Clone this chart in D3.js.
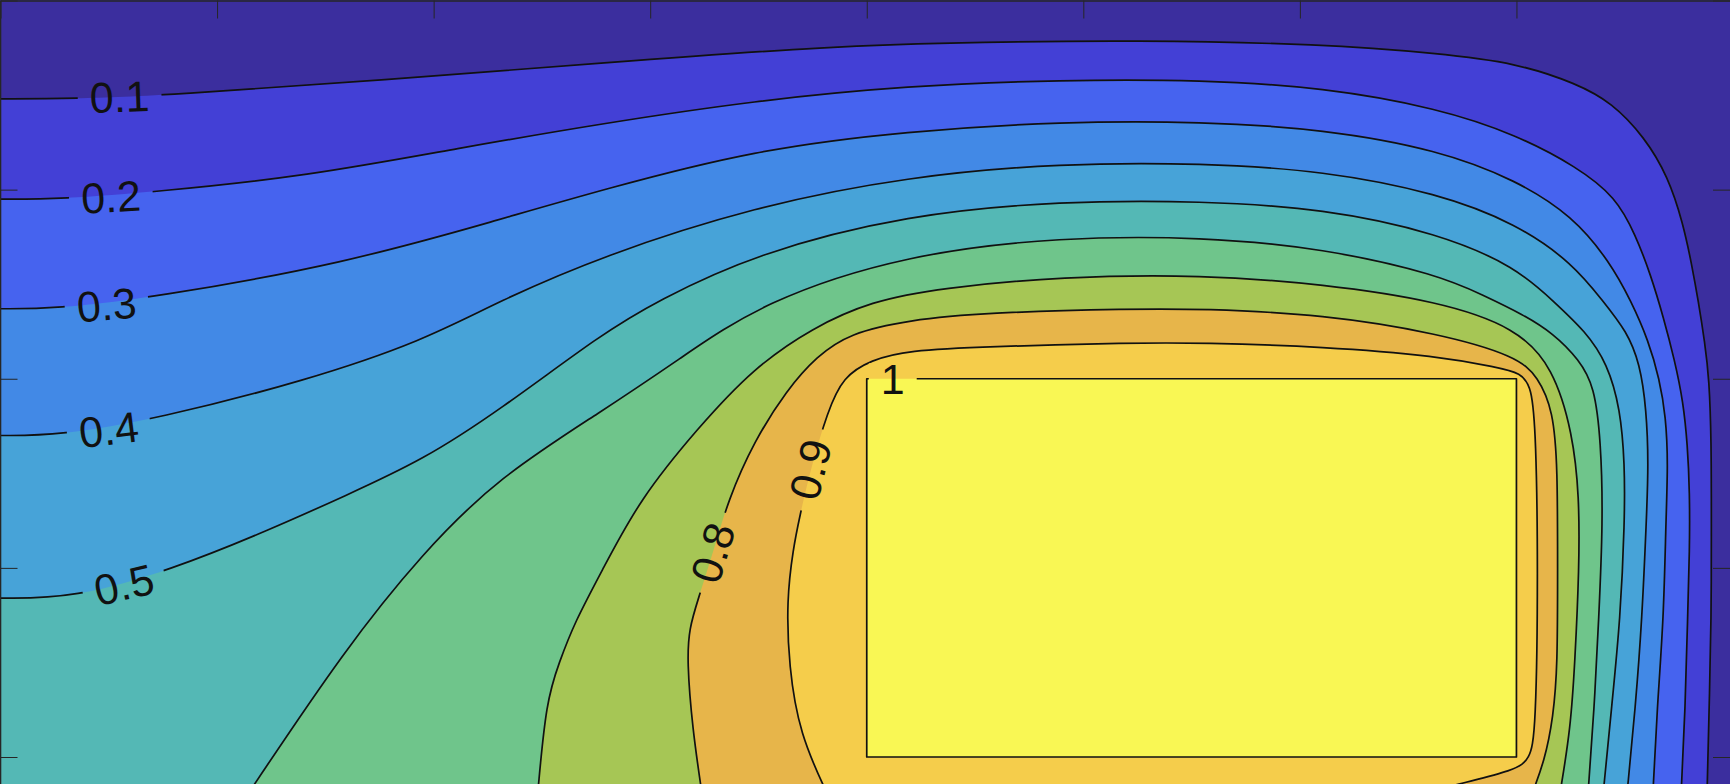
<!DOCTYPE html>
<html><head><meta charset="utf-8">
<script src="https://cdn.jsdelivr.net/npm/d3@7"></script>
<style>html,body{margin:0;padding:0;background:#fff;}svg{display:block;}</style>
</head><body>
<svg id="chart" width="1730" height="784"></svg>
<script>
// ---- data (x, y in axis units; rectangle source at value 1) ----
const levels = [0.1, 0.2, 0.3, 0.4, 0.5, 0.6, 0.7, 0.8, 0.9, 1.0];
const bandColors = ["#3b2e9e", "#4340d6", "#4663ef", "#4289e6", "#47a3d8", "#54b8b5",
                    "#6fc58b", "#a6c655", "#e7b54a", "#f5cd4b", "#f9f754"];
const contour01 = [[0,3.48],[0.33,3.48],[0.79,3.50],[1.77,3.58],[2.78,3.67],[3.84,3.76],[4.55,3.78],[5.22,3.79],[6.11,3.77],[6.64,3.72],[7.00,3.67],[7.28,3.56],[7.44,3.46],[7.59,3.28],[7.70,3.07],[7.77,2.82],[7.81,2.60],[7.84,2.41],[7.87,2.19],[7.89,2.00],[7.90,1.67],[7.90,1.25],[7.90,0.73],[7.89,0.27],[7.88,-0.2]];
const contour02 = [[0,2.95],[0.28,2.95],[0.73,2.99],[1.41,3.07],[2.12,3.22],[2.78,3.35],[3.48,3.47],[4.19,3.55],[4.90,3.58],[5.55,3.58],[6.11,3.54],[6.64,3.43],[7.00,3.29],[7.28,3.12],[7.46,2.96],[7.55,2.76],[7.62,2.55],[7.68,2.32],[7.73,2.10],[7.77,1.88],[7.79,1.65],[7.80,1.40],[7.80,1.10],[7.79,0.73],[7.78,0.27],[7.76,-0.2]];
const contour03 = [[0,2.37],[0.25,2.37],[0.71,2.43],[1.59,2.61],[2.30,2.84],[2.78,3.00],[3.48,3.21],[4.19,3.31],[4.90,3.36],[5.55,3.36],[6.11,3.32],[6.64,3.21],[7.00,3.05],[7.26,2.86],[7.43,2.62],[7.53,2.41],[7.61,2.20],[7.66,2.00],[7.69,1.80],[7.70,1.55],[7.69,1.25],[7.68,0.73],[7.65,0.27],[7.63,-0.2]];
const contour04 = [[0,1.70],[0.27,1.70],[0.73,1.79],[1.41,1.99],[1.95,2.20],[2.30,2.41],[2.78,2.65],[3.48,2.91],[4.19,3.07],[4.90,3.14],[5.55,3.14],[6.11,3.10],[6.64,2.98],[7.00,2.82],[7.26,2.61],[7.40,2.41],[7.51,2.25],[7.57,2.08],[7.60,1.84],[7.61,1.55],[7.60,1.25],[7.58,0.73],[7.55,0.27],[7.51,-0.2]];
const contour05 = [[0,0.84],[0.34,0.84],[0.79,0.99],[1.24,1.20],[1.59,1.38],[1.95,1.57],[2.30,1.83],[2.78,2.24],[3.03,2.41],[3.48,2.66],[4.19,2.87],[4.90,2.94],[5.55,2.94],[6.11,2.90],[6.64,2.77],[7.00,2.59],[7.17,2.41],[7.32,2.25],[7.42,2.08],[7.48,1.84],[7.50,1.55],[7.50,1.25],[7.48,0.73],[7.44,0.27],[7.40,-0.2]];
const contour06 = [[1.14,-0.2],[1.59,0.57],[1.95,1.08],[2.30,1.48],[2.78,1.83],[3.13,2.10],[3.52,2.41],[4.19,2.66],[4.90,2.75],[5.55,2.75],[6.11,2.69],[6.64,2.55],[6.85,2.44],[7.03,2.34],[7.17,2.24],[7.29,2.10],[7.36,1.96],[7.39,1.67],[7.40,1.25],[7.38,0.73],[7.36,0.27],[7.33,-0.2]];
const contour07 = [[2.48,-0.2],[2.52,0.30],[2.58,0.50],[2.65,0.71],[2.78,0.99],[2.95,1.36],[3.22,1.74],[3.48,2.06],[3.75,2.27],[4.02,2.41],[4.34,2.48],[4.90,2.54],[5.55,2.55],[6.11,2.50],[6.64,2.41],[7.00,2.27],[7.17,2.06],[7.26,1.71],[7.29,1.38],[7.29,1.00],[7.27,0.50],[7.25,0.15],[7.20,-0.2]];
const contour08 = [[3.24,-0.2],[3.195,0.15],[3.17,0.51],[3.18,0.68],[3.22,0.83],[3.29,1.08],[3.36,1.36],[3.48,1.67],[3.63,1.94],[3.77,2.12],[3.92,2.24],[4.19,2.31],[4.55,2.35],[5.22,2.37],[5.55,2.37],[6.11,2.34],[6.64,2.24],[7.00,2.12],[7.10,2.01],[7.17,1.83],[7.19,1.53],[7.19,1.00],[7.19,0.48],[7.17,0.21],[7.13,-0.02],[7.07,-0.2]];
const contour09 = [[3.82,-0.2],[3.69,0.12],[3.64,0.48],[3.63,0.83],[3.66,1.10],[3.69,1.27],[3.74,1.52],[3.82,1.83],[3.89,2.01],[4.02,2.10],[4.19,2.15],[4.55,2.17],[5.22,2.19],[5.55,2.19],[6.11,2.17],[6.64,2.12],[6.91,2.06],[7.02,2.03],[7.07,1.96],[7.09,1.71],[7.10,1.00],[7.09,0.12],[7.06,-0.01],[7.00,-0.07],[6.70,-0.15],[6.50,-0.22]];
const contour10 = [[4,0],[4,2],[7,2],[7,0]];
const labelText  = ["0.1", "0.2", "0.3", "0.4", "0.5", "0.8", "0.9", "1"];
const labelX     = [0.55, 0.51, 0.49, 0.50, 0.57, 3.29, 3.74, 4.12];
const labelY     = [3.49, 2.96, 2.39, 1.73, 0.91, 1.08, 1.52, 2.00];
const labelAngle = [2, 3, 5, 7, 13, 73, 76, 0];
const xTicks = [0, 1, 2, 3, 4, 5, 6, 7, 8];
const yTicks = [0, 1, 2, 3, 4];

// ---- layout ----
const W = 1730, H = 784;
const svg = d3.select("#chart");
const x = d3.scaleLinear().domain([0, 8]).range([0.5, 1733]);
const y = d3.scaleLinear().domain([0, 4]).range([757, 0.5]);
const fontSize = 43, pad = 12, axisColor = "#262626";

const contours = [contour01, contour02, contour03, contour04, contour05,
                  contour06, contour07, contour08, contour09];

const smooth = d3.line().x(d => x(d[0])).y(d => y(d[1])).curve(d3.curveBasis);
const straight = d3.line().x(d => x(d[0])).y(d => y(d[1]));

// background band (< first level)
svg.append("rect").attr("x", 0).attr("y", 0).attr("width", W).attr("height", H)
   .attr("fill", bandColors[0]);

// filled regions, ascending
const fills = svg.append("g");
const yb = y(-0.8);
contours.forEach((pts, i) => {
  const f = pts[0], l = pts[pts.length - 1];
  const x0 = f[0] === 0 ? -5 : x(f[0]);
  const d = smooth(pts) + `L${x(l[0])},${yb}L${x0},${yb}L${x0},${y(f[1])}Z`;
  fills.append("path").attr("d", d).attr("fill", bandColors[i + 1]);
});
fills.append("path").attr("d", straight(contour10) + "Z").attr("fill", bandColors[10]);

// mask that opens gaps in the contour lines behind the labels
const defs = svg.append("defs");
const mask = defs.append("mask").attr("id", "gapMask").attr("maskUnits", "userSpaceOnUse")
  .attr("x", -10).attr("y", -10).attr("width", W + 20).attr("height", H + 20);
mask.append("rect").attr("x", -10).attr("y", -10).attr("width", W + 20).attr("height", H + 20).attr("fill", "white");

const lineG = svg.append("g").attr("mask", "url(#gapMask)")
  .attr("fill", "none").attr("stroke", "#111").attr("stroke-width", 1.7).attr("stroke-linejoin", "round");
contours.forEach(pts => lineG.append("path").attr("d", smooth(pts)));
lineG.append("path").attr("d", straight(contour10) + "Z");

const labG = svg.append("g").attr("font-family", "'Liberation Sans', Arial, Helvetica, sans-serif")
  .attr("font-size", fontSize).attr("fill", "#111");
labelText.forEach((t, i) => {
  const tr = `translate(${x(labelX[i])},${y(labelY[i])}) rotate(${-labelAngle[i]})`;
  const txt = labG.append("text").attr("transform", tr)
    .attr("text-anchor", "middle").attr("dominant-baseline", "central").text(t);
  const w = txt.node().getComputedTextLength();
  const h = fontSize * 0.72;
  mask.append("rect").attr("transform", tr)
    .attr("x", -w / 2 - pad).attr("y", -h / 2).attr("width", w + 2 * pad).attr("height", h)
    .attr("fill", "black");
});

// axes (ticks inward, no tick labels)
function styleAxis(g) {
  g.select(".domain").attr("stroke", axisColor).attr("stroke-width", 1.6);
  g.selectAll(".tick line").attr("stroke", axisColor).attr("stroke-width", 1);
  g.selectAll(".tick text").remove();
}
svg.append("g").attr("transform", `translate(0,${y(4)})`)
  .call(d3.axisBottom(x).tickValues(xTicks).tickSize(18).tickSizeOuter(0).tickFormat(""))
  .call(styleAxis);
svg.append("g").attr("transform", `translate(${x(0)},0)`)
  .call(d3.axisRight(y).tickValues(yTicks).tickSize(17).tickSizeOuter(0).tickFormat(""))
  .call(g => g.select(".domain").attr("d", `M0,${y(4)}V${H + 10}`))
  .call(styleAxis);
svg.append("g").attr("transform", `translate(${x(8)},0)`)
  .call(d3.axisLeft(y).tickValues(yTicks).tickSize(20).tickSizeOuter(0).tickFormat(""))
  .call(styleAxis);
</script>
</body></html>
